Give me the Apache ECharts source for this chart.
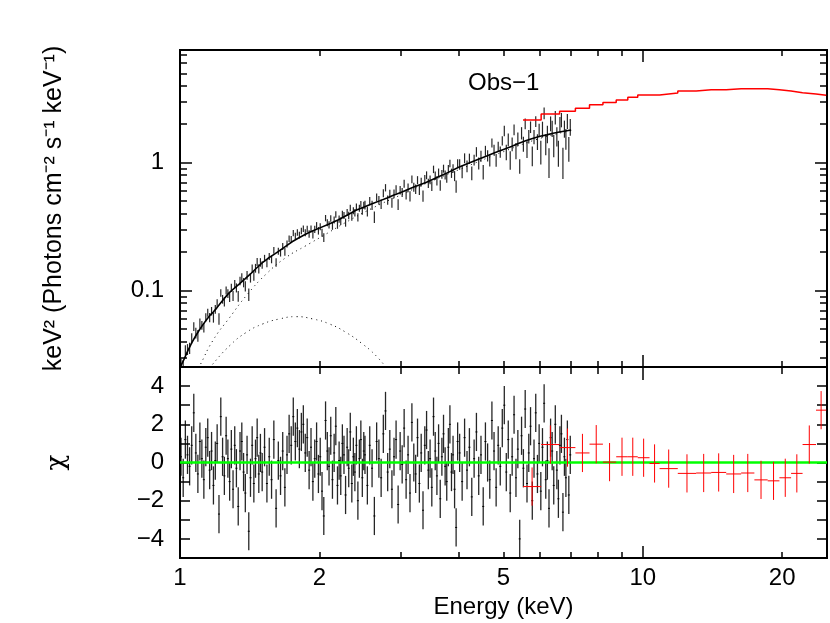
<!DOCTYPE html>
<html>
<head>
<meta charset="utf-8">
<script src="https://cdn.jsdelivr.net/npm/echarts@6/dist/echarts.min.js"></script>
<style>html,body{margin:0;padding:0;background:#fff}#c{width:830px;height:623px}</style>
</head>
<body>
<div id="c"></div>
<script>
// ---------- axis ticks / labels ----------
const xTickLabels = [1, 2, 5, 10, 20];
const xMinorTicks = [2, 3, 4, 5, 6, 7, 8, 9, 20];
const xMajorTicks = [1, 10];
const yTopLabels = [0.1, 1];
const yTopMinorTicks = [0.03, 0.04, 0.05, 0.06, 0.07, 0.08, 0.09, 0.2, 0.3, 0.4, 0.5, 0.6, 0.7, 0.8, 0.9, 2, 3, 4, 5, 6, 7];
const yTopMajorTicks = [0.1, 1];
const yResLabels = [-4, -2, 0, 2, 4];
const yResTicks = [-4, -3, -2, -1, 0, 1, 2, 3, 4];

// ---------- black data (Obs-1, soft instrument) ----------
const blackE = [1.005,1.016,1.027,1.038,1.049,1.060,1.071,1.082,1.093,1.104,1.115,1.126,1.137,1.148,1.159,1.170,1.181,1.192,1.203,1.214,1.225,1.236,1.247,1.258,1.269,1.280,1.291,1.302,1.313,1.324,1.336,1.348,1.360,1.372,1.384,1.396,1.408,1.420,1.432,1.444,1.456,1.468,1.480,1.492,
1.505,1.523,1.541,1.559,1.577,1.595,1.613,1.631,1.649,1.667,1.685,1.703,1.721,1.739,1.757,1.775,1.793,1.811,1.829,1.847,1.865,1.883,1.901,1.919,1.937,1.955,1.973,1.991,2.009,2.027,2.045,2.063,2.081,2.099,2.117,2.135,2.153,2.171,2.189,2.207,2.225,2.243,2.261,2.279,2.297,2.315,2.333,2.351,2.369,2.387,2.405,2.423,2.441,2.459,2.477,2.495,
2.51,2.54,2.57,2.60,2.63,2.66,2.69,2.72,2.75,2.78,2.81,2.84,2.87,2.90,2.93,2.96,2.99,3.02,3.05,3.08,3.11,3.14,3.17,3.20,3.23,3.26,3.29,3.32,3.35,3.38,3.41,3.44,3.47,3.50,3.53,3.56,3.59,3.62,3.65,3.68,3.71,3.74,3.77,3.80,3.83,3.86,3.89,3.92,3.95,3.98,
4.02,4.07,4.12,4.17,4.22,4.27,4.32,4.37,4.42,4.47,4.52,4.57,4.62,4.67,4.72,4.77,4.82,4.87,4.92,4.97,5.02,5.07,5.12,5.17,5.22,5.27,5.32,5.37,5.42,5.47,5.52,5.57,5.62,5.67,5.72,5.77,5.82,5.87,5.92,5.97,6.02,6.07,6.12,6.17,6.22,6.27,6.32,6.37,6.42,6.47,6.52,6.57,6.62,6.67,6.72,6.77,6.82,6.87,6.92,6.97];

const blackFlux = [0.0268,0.0258,0.0343,0.0348,0.0355,0.0425,0.0525,0.0467,0.0445,0.0555,0.0536,0.0515,0.0620,0.0673,0.0617,0.0692,0.0617,0.0716,0.0799,0.0604,0.0960,0.0858,0.0822,0.1005,0.0952,0.0892,0.1054,0.0910,0.1129,0.1054,0.0906,0.1195,0.1273,0.1158,0.1083,0.1319,0.0936,0.1264,0.1492,0.1308,0.1500,0.1676,0.1485,0.1666,
0.1593,0.1793,0.1635,0.1850,0.1757,0.2065,0.1662,0.2036,0.1982,0.2221,0.2013,0.2319,0.2547,0.2522,0.2822,0.2673,0.2847,0.2719,0.2927,0.3053,0.2841,0.3039,0.2778,0.3047,0.2748,0.3020,0.3237,0.2941,0.3162,0.2838,0.2608,0.3693,0.3402,0.3275,0.3670,0.3211,0.3570,0.3938,0.3274,0.3625,0.3493,0.3960,0.3873,0.3409,0.4092,0.3876,0.4434,0.3787,0.4223,0.4068,0.4512,0.3748,0.4410,0.4741,0.4212,0.4663,
0.4672,0.4166,0.5027,0.4656,0.3762,0.5359,0.5084,0.4759,0.5785,0.6379,0.5115,0.5715,0.4880,0.5714,0.6204,0.4731,0.6103,0.5863,0.6864,0.5652,0.6378,0.5467,0.7428,0.6450,0.6226,0.7320,0.6129,0.7072,0.5500,0.7450,0.7992,0.6912,0.7361,0.6586,0.8886,0.7923,0.7236,0.8381,0.6657,0.8131,0.9005,0.8029,0.7618,0.8938,0.9883,0.8294,0.9040,0.7885,0.6552,0.9923,
0.973,0.851,1.087,0.941,1.077,0.831,1.053,1.218,0.992,1.128,0.849,1.243,1.137,1.051,1.430,1.261,1.050,1.335,1.217,1.487,1.775,1.211,1.517,1.053,1.401,1.813,1.244,1.536,0.940,1.708,1.405,2.019,1.282,1.609,1.903,1.140,1.596,2.102,1.462,1.809,1.227,1.832,2.444,1.407,1.681,1.027,2.029,1.856,1.377,2.262,1.614,1.207,1.994,2.170,1.027,1.850,1.546,2.122,1.302,1.910];

const blackErr = [0.0026,0.0028,0.0031,0.0034,0.0036,0.0039,0.0042,0.0045,0.0047,0.0050,0.0042,0.0044,0.0047,0.0049,0.0051,0.0053,0.0055,0.0057,0.0059,0.0062,0.0064,0.0067,0.0070,0.0072,0.0075,0.0078,0.0080,0.0082,0.0084,0.0086,0.0089,0.0091,0.0094,0.0096,0.0099,0.0102,0.0105,0.0108,0.0111,0.0115,0.0118,0.0121,0.0125,0.0128,
0.0107,0.0111,0.0114,0.0118,0.0121,0.0125,0.0128,0.0131,0.0135,0.0139,0.0143,0.0147,0.0151,0.0155,0.0159,0.0162,0.0166,0.0169,0.0172,0.0176,0.0179,0.0182,0.0185,0.0188,0.0191,0.0194,0.0196,0.0199,0.0202,0.0204,0.0207,0.0210,0.0213,0.0216,0.0219,0.0222,0.0225,0.0228,0.0231,0.0234,0.0238,0.0242,0.0245,0.0249,0.0253,0.0257,0.0261,0.0265,0.0269,0.0273,0.0277,0.0280,0.0283,0.0286,0.0289,0.0292,
0.0362,0.0369,0.0375,0.0382,0.0388,0.0394,0.0400,0.0407,0.0413,0.0420,0.0426,0.0433,0.0440,0.0446,0.0453,0.0459,0.0466,0.0473,0.0480,0.0487,0.0494,0.0502,0.0509,0.0516,0.0523,0.0530,0.0538,0.0544,0.0550,0.0556,0.0563,0.0571,0.0580,0.0588,0.0596,0.0605,0.0613,0.0621,0.0628,0.0635,0.0643,0.0653,0.0662,0.0672,0.0682,0.0691,0.0701,0.0710,0.0720,0.0730,
0.093,0.095,0.096,0.098,0.100,0.101,0.103,0.105,0.107,0.109,0.110,0.112,0.114,0.116,0.117,0.119,0.121,0.123,0.124,0.126,0.166,0.168,0.171,0.173,0.175,0.178,0.180,0.183,0.122,0.188,0.190,0.192,0.194,0.196,0.198,0.200,0.202,0.204,0.206,0.208,0.258,0.260,0.261,0.263,0.265,0.267,0.269,0.271,0.273,0.274,0.276,0.277,0.279,0.280,0.281,0.282,0.284,0.285,0.286,0.287];

const blackChi = [0.3,-0.8,1.2,0.4,-0.2,0.9,2.6,0.5,-0.6,1.1,0.2,-0.9,0.8,1.3,-0.4,0.6,-1.2,0.1,1.0,-2.7,2.4,0.3,-0.7,1.4,0.2,-1.0,0.7,-1.4,0.9,-0.3,-2.3,0.6,1.1,-0.5,-1.6,0.4,-3.6,-0.8,0.9,-1.1,0.2,1.3,-0.6,0.5,
-0.5,0.8,-1.1,0.3,-0.9,1.2,-2.4,0.1,-0.7,0.6,-1.3,0.4,1.5,0.9,2.4,1.1,1.8,0.7,1.6,2.0,0.5,1.3,-0.4,0.8,-1.0,0.2,1.1,-0.6,0.3,-1.5,-2.8,2.2,0.6,-0.2,1.4,-0.9,0.5,1.9,-1.2,0.1,-0.7,1.0,0.4,-1.7,0.8,-0.3,1.6,-1.1,0.3,-0.5,0.9,-2.0,0.2,1.2,-0.8,0.6,
0.4,-1.2,0.9,-0.3,-2.8,1.1,0.2,-0.8,1.5,2.7,-0.5,0.7,-1.4,0.3,1.2,-2.2,0.6,-0.1,1.8,-0.9,0.4,-1.6,2.1,0.0,-0.6,1.3,-1.1,0.5,-2.5,0.9,1.7,-0.4,0.2,-1.3,2.4,0.6,-0.7,1.0,-1.9,0.3,1.5,-0.2,-1.0,0.8,2.0,-0.5,0.4,-1.4,-3.4,1.1,
0.5,-1.0,1.3,-0.4,0.8,-1.8,0.2,1.6,-0.7,0.4,-2.3,1.1,0.0,-0.9,2.2,0.6,-1.3,0.9,-0.2,1.8,3.0,-0.5,1.2,-1.6,0.3,2.5,-0.8,0.7,-4.0,1.4,-0.3,2.8,-1.1,0.5,1.9,-2.0,0.2,2.6,-0.6,1.0,-1.5,0.8,3.1,-0.9,0.1,-2.4,1.3,0.6,-1.2,2.0,-0.4,-1.9,0.9,1.5,-2.6,0.3,-0.8,1.2,-1.7,0.4];

// ---------- model curves (top panel) ----------
const modelE = [1.0,1.02,1.04,1.06,1.08,1.10,1.12,1.14,1.16,1.18,1.20,1.22,1.24,1.26,1.28,1.30,1.34,1.38,1.42,1.46,1.50,1.55,1.60,1.65,1.70,1.75,1.80,1.85,1.90,1.95,2.0,2.1,2.2,2.3,2.4,2.5,2.6,2.7,2.8,2.9,3.0,3.2,3.4,3.6,3.8,4.0,4.2,4.4,4.6,4.8,5.0,5.2,5.4,5.6,5.8,6.0,6.2,6.4,6.6,6.8,7.0];
const modelV = [0.025,0.029,0.034,0.039,0.044,0.049,0.054,0.059,0.064,0.068,0.073,0.079,0.085,0.091,0.097,0.102,0.112,0.123,0.135,0.149,0.163,0.179,0.193,0.208,0.225,0.242,0.257,0.271,0.285,0.297,0.308,0.332,0.358,0.39,0.425,0.45,0.477,0.503,0.53,0.558,0.585,0.645,0.70,0.77,0.84,0.92,0.99,1.06,1.13,1.20,1.27,1.34,1.42,1.49,1.55,1.61,1.65,1.70,1.74,1.77,1.80];
const comp1E = [1.095,1.104,1.179,1.281,1.391,1.536,1.696,1.873,2.068,2.283,2.6,3.0,3.5,4.0,5.0,6.0,7.0];
const comp1V = [0.0246,0.026,0.041,0.0618,0.0914,0.135,0.182,0.225,0.277,0.342,0.44,0.56,0.72,0.88,1.22,1.55,1.78];
const comp2E = [1.160,1.170,1.281,1.391,1.511,1.641,1.782,1.935,2.101,2.283,2.479,2.649,2.80];
const comp2V = [0.0246,0.026,0.0372,0.0472,0.055,0.0601,0.0626,0.0601,0.055,0.0472,0.0383,0.0311,0.0246];

// ---------- red data (hard instrument) ----------
const redLo = [5.51,6.03,6.61,7.15,7.67,8.20,8.76,9.28,9.75,10.34,10.87,11.90,13.04,14.05,15.14,16.31,17.42,18.61,19.73,20.91,22.14,23.67];
const redHi = [6.03,6.61,7.15,7.67,8.20,8.76,9.28,9.75,10.34,10.87,11.90,13.04,14.05,15.14,16.31,17.42,18.61,19.73,20.91,22.14,23.67,24.9];
const redFlux = [2.16,2.40,2.52,2.66,2.84,2.96,3.09,3.24,3.38,3.38,3.50,3.63,3.72,3.72,3.79,3.79,3.79,3.72,3.63,3.52,3.44,3.36];
const redChi = [-1.26,0.94,0.78,0.50,0.96,0.02,0.30,0.30,0.25,-0.05,-0.32,-0.57,-0.55,-0.52,-0.60,-0.55,-0.91,-0.96,-0.80,-0.57,0.94,2.74];

// ---------- chart ----------
const FONT = "'Liberation Sans', Arial, Helvetica, sans-serif";
const X_MIN = 1, X_MAX = 25;
const Y_MIN = 0.0253, Y_MAX = 7.6;

function xAx(grid, pos, ticks, len, labels, name) {
  const a = {
    type: 'log', logBase: 10, gridIndex: grid, position: pos, min: X_MIN, max: X_MAX,
    axisLine: {show: true, onZero: false, lineStyle: {color: '#000', width: 2}},
    axisTick: {show: true, inside: true, length: len, customValues: ticks, lineStyle: {color: '#000', width: 1.5}},
    axisLabel: labels ? {show: true, customValues: labels, margin: 8, color: '#000', fontSize: 24, fontFamily: FONT, formatter: v => String(v)} : {show: false},
    splitLine: {show: false}, minorTick: {show: false}, minorSplitLine: {show: false}
  };
  if (name) {
    a.name = name; a.nameLocation = 'middle'; a.nameGap = 37;
    a.nameTextStyle = {color: '#000', fontSize: 24, fontFamily: FONT};
  }
  return a;
}
function yLogAx(pos, ticks, len, labels, name) {
  const a = {
    type: 'log', logBase: 10, gridIndex: 0, position: pos, min: Y_MIN, max: Y_MAX,
    axisLine: {show: true, onZero: false, lineStyle: {color: '#000', width: 2}},
    axisTick: {show: true, inside: true, length: len, customValues: ticks, lineStyle: {color: '#000', width: 1.5}},
    axisLabel: labels ? {show: true, customValues: labels, margin: 16, color: '#000', fontSize: 24, fontFamily: FONT, formatter: v => String(v)} : {show: false},
    splitLine: {show: false}, minorTick: {show: false}, minorSplitLine: {show: false}
  };
  if (name) {
    a.name = name; a.nameLocation = 'middle'; a.nameGap = 113;
    a.nameTextStyle = {color: '#000', fontSize: 25, fontFamily: FONT};
  }
  return a;
}
function yResAx(pos, labels, name) {
  const a = {
    type: 'value', gridIndex: 1, position: pos, min: -5, max: 5, interval: 1,
    axisLine: {show: true, onZero: false, lineStyle: {color: '#000', width: 2}},
    axisTick: {show: true, inside: true, length: 10, customValues: yResTicks, lineStyle: {color: '#000', width: 1.5}},
    axisLabel: labels ? {show: true, customValues: labels, margin: 16, color: '#000', fontSize: 24, fontFamily: FONT,
      formatter: v => (v < 0 ? '\u2212' + (-v) : String(v))} : {show: false},
    splitLine: {show: false}
  };
  if (name) {
    a.name = name; a.nameLocation = 'middle'; a.nameGap = 110;
    a.nameTextStyle = {color: '#000', fontSize: 26, fontFamily: "'DejaVu Serif', serif"};
  }
  return a;
}

const blackTop = blackE.map((e, i) => [e, blackFlux[i] - blackErr[i], blackFlux[i] + blackErr[i]]);
const blackRes = blackE.map((e, i) => [e, blackChi[i] - 1, blackChi[i] + 1, blackChi[i]]);
const redStep = redLo.map((lo, i) => [lo, redFlux[i]]).concat([[redHi[redHi.length - 1], redFlux[redFlux.length - 1]]]);
const redRes = redLo.map((lo, i) => [lo, redHi[i], redChi[i]]);

const option = {
  animation: false,
  backgroundColor: '#fff',
  grid: [
    {left: 180, right: 3, top: 50, height: 317},
    {left: 180, right: 3, top: 367, height: 191}
  ],
  xAxis: [
    xAx(0, 'bottom', xMinorTicks, 6),
    xAx(0, 'bottom', xMajorTicks, 12),
    xAx(0, 'top', xMinorTicks, 6),
    xAx(0, 'top', xMajorTicks, 12),
    xAx(1, 'bottom', xMinorTicks, 6, xTickLabels, 'Energy (keV)'),
    xAx(1, 'bottom', xMajorTicks, 12),
    xAx(1, 'top', xMinorTicks, 7),
    xAx(1, 'top', xMajorTicks, 13)
  ],
  yAxis: [
    yLogAx('left', yTopMinorTicks, 7, yTopLabels, 'keV\u00b2 (Photons cm\u207b\u00b2 s\u207b\u00b9 keV\u207b\u00b9)'),
    yLogAx('left', yTopMajorTicks, 12),
    yLogAx('right', yTopMinorTicks, 7),
    yLogAx('right', yTopMajorTicks, 12),
    yResAx('left', yResLabels, '\u03c7'),
    yResAx('right')
  ],
  graphic: [{
    type: 'text', left: 468, top: 71, z: 100,
    style: {text: 'Obs\u22121', fill: '#000', fontSize: 24, fontFamily: FONT}
  }],
  series: [
    {
      type: 'custom', xAxisIndex: 0, yAxisIndex: 0, clip: true, data: blackTop,
      encode: {x: 0, y: [1, 2]},
      renderItem: (params, api) => {
        const p1 = api.coord([api.value(0), api.value(1)]);
        const p2 = api.coord([api.value(0), api.value(2)]);
        return {type: 'line', shape: {x1: p1[0], y1: p1[1], x2: p2[0], y2: p2[1]},
          style: {stroke: 'rgba(0,0,0,0.85)', lineWidth: 1.2}};
      }
    },
    {type: 'line', xAxisIndex: 0, yAxisIndex: 0, showSymbol: false, symbol: 'none',
      data: modelE.map((e, i) => [e, modelV[i]]), lineStyle: {color: '#000', width: 1.6}, z: 5},
    {type: 'line', xAxisIndex: 0, yAxisIndex: 0, showSymbol: false, symbol: 'none', smooth: true,
      data: comp1E.map((e, i) => [e, comp1V[i]]), lineStyle: {color: '#000', width: 1, type: [1, 4]}},
    {type: 'line', xAxisIndex: 0, yAxisIndex: 0, showSymbol: false, symbol: 'none', smooth: true,
      data: comp2E.map((e, i) => [e, comp2V[i]]), lineStyle: {color: '#000', width: 1, type: [1, 4]}},
    {type: 'line', xAxisIndex: 0, yAxisIndex: 0, showSymbol: false, symbol: 'none', step: 'end',
      data: redStep, lineStyle: {color: '#ff0000', width: 1.5}, z: 6},
    {
      type: 'custom', xAxisIndex: 4, yAxisIndex: 4, clip: true, data: blackRes,
      encode: {x: 0, y: [1, 2]},
      renderItem: (params, api) => {
        const p1 = api.coord([api.value(0), api.value(1)]);
        const p2 = api.coord([api.value(0), api.value(2)]);
        const pc = api.coord([api.value(0), api.value(3)]);
        return {type: 'group', children: [
          {type: 'line', shape: {x1: p1[0], y1: p1[1], x2: p2[0], y2: p2[1]}, style: {stroke: 'rgba(0,0,0,0.85)', lineWidth: 1.3}},
          {type: 'line', shape: {x1: pc[0] - 1, y1: pc[1], x2: pc[0] + 1, y2: pc[1]}, style: {stroke: '#000', lineWidth: 1}}
        ]};
      }
    },
    {type: 'line', xAxisIndex: 4, yAxisIndex: 4, showSymbol: false, symbol: 'none',
      data: [[X_MIN, 0], [X_MAX, 0]], lineStyle: {color: '#00ff00', width: 2.5}, z: 5},
    {
      type: 'custom', xAxisIndex: 4, yAxisIndex: 4, clip: true, data: redRes, z: 6,
      encode: {x: [0, 1], y: 2},
      renderItem: (params, api) => {
        const lo = api.value(0), hi = api.value(1), c = api.value(2);
        const mid = Math.sqrt(lo * hi);
        const a = api.coord([lo, c]), b = api.coord([hi, c]);
        const t = api.coord([mid, c + 1]), u = api.coord([mid, c - 1]);
        return {type: 'group', children: [
          {type: 'line', shape: {x1: a[0], y1: a[1], x2: b[0], y2: b[1]}, style: {stroke: '#ff0000', lineWidth: 1}},
          {type: 'line', shape: {x1: t[0], y1: t[1], x2: u[0], y2: u[1]}, style: {stroke: '#ff0000', lineWidth: 1}}
        ]};
      }
    }
  ]
};

const chart = echarts.init(document.getElementById('c'), null, {renderer: 'canvas'});
chart.setOption(option);
</script>
</body>
</html>
